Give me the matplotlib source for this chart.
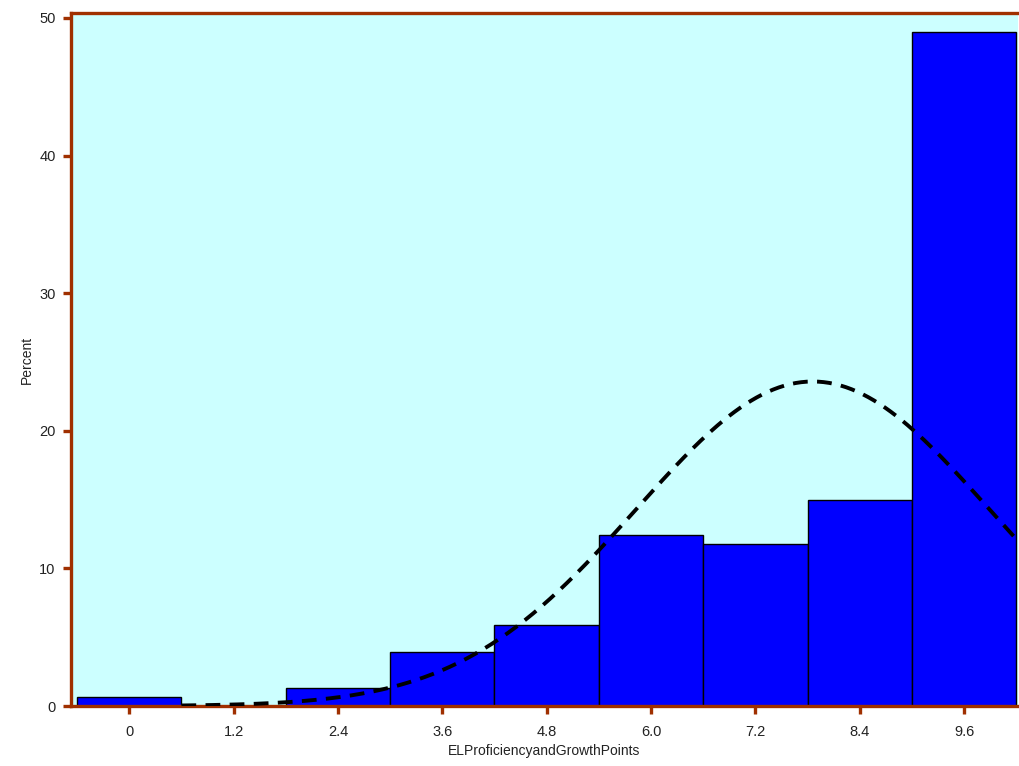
import numpy as np
import matplotlib
matplotlib.use('Agg')
import matplotlib.pyplot as plt

plt.rcParams['font.family'] = ['Liberation Sans', 'DejaVu Sans']

# histogram bins (midpoints) and percent per bin
bin_mids = [0, 1.2, 2.4, 3.6, 4.8, 6.0, 7.2, 8.4, 9.6]
percent = [0.65, 0.0, 1.3, 3.9, 5.9, 12.4, 11.8, 15.0, 49.0]
bin_width = 1.2
tick_labels = ['0', '1.2', '2.4', '3.6', '4.8', '6.0', '7.2', '8.4', '9.6']

# fitted normal curve parameters
mu = 7.86
sigma = 2.03

spine_col = '#A03000'

fig = plt.figure(figsize=(10.2, 7.66), dpi=100)
ax = fig.add_axes([0.0696, 0.0783, 0.9284, 0.9047])
ax.set_facecolor('#CCFFFF')

ax.bar(bin_mids, percent, width=bin_width, color='#0000FF', edgecolor='black', linewidth=1.0, zorder=2)

xs = np.linspace(0.6, 10.2, 300)
ys = 100 * bin_width * np.exp(-0.5 * ((xs - mu) / sigma) ** 2) / (sigma * np.sqrt(2 * np.pi))
ax.plot(xs, ys, color='black', lw=2.8, linestyle=(0, (3.8, 2.4)), zorder=3)

ax.set_xlim(-0.67, 10.22)
ax.set_ylim(0, 50.36)
ax.set_xticks(bin_mids)
ax.set_xticklabels(tick_labels)
ax.set_yticks([0, 10, 20, 30, 40, 50])

for s in ['left', 'bottom', 'top']:
    ax.spines[s].set_color(spine_col)
    ax.spines[s].set_linewidth(2.4)
ax.spines['right'].set_visible(False)

ax.tick_params(axis='both', colors=spine_col, width=2.4, length=6, labelsize=10.5, labelcolor='#222222')
ax.tick_params(axis='x', pad=8)
ax.tick_params(axis='y', pad=5)

ax.set_xlabel('ELProficiencyandGrowthPoints', fontsize=10, color='#222222', labelpad=3)
ax.set_ylabel('Percent', fontsize=10, color='#222222', labelpad=4)

fig.savefig('out.png', dpi=100, facecolor='white')
